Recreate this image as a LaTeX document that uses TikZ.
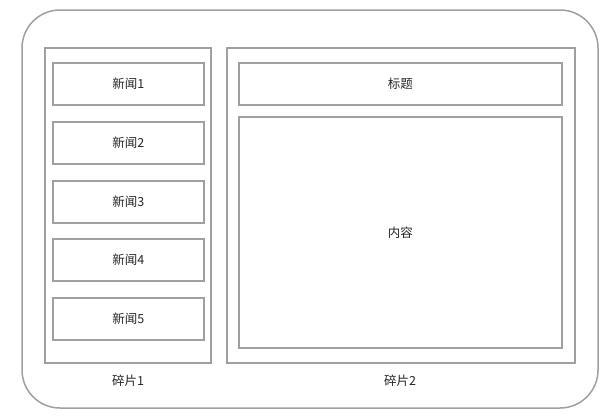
\documentclass[tikz,border=0pt]{standalone}
\usepackage{fontspec}
\newfontfamily\cjk{Noto Sans CJK SC}
\definecolor{framegray}{HTML}{A0A0A0}
\tikzset{
  panel/.style={draw=framegray,line width=1.5pt,inner sep=0pt,anchor=north west},
  lbl/.style={font=\cjk\fontsize{12.5}{14}\selectfont,text=black!85}
}
\begin{document}
\begin{tikzpicture}[x=1pt,y=-1pt]
\useasboundingbox (0,0) rectangle (612,416);

    % outer frame
    \draw[framegray,line width=1.5pt,rounded corners=38pt] (22,10) rectangle (598,408);

    % left fragment
    \node[panel,minimum width=166pt,minimum height=315pt] (frag1) at (44,47) {};
    \foreach \i/\y in {1/62,2/121,3/180,4/238,5/297}{
        \node[panel,minimum width=151pt,minimum height=42pt] (news\i) at (52,\y) {};
        \node[lbl] at (news\i.center) {新闻\i};
    }
    \node[lbl] (frag1lbl) at (128,381) {碎片1};

    % right fragment
    \node[panel,minimum width=348pt,minimum height=315pt] (frag2) at (226,47) {};
    \node[panel,minimum width=323pt,minimum height=42pt] (title) at (238,62) {};
    \node[lbl] at (title.center) {标题};
    \node[panel,minimum width=323pt,minimum height=231pt] (content) at (238,116) {};
    \node[lbl] at (content.center) {内容};
    \node[lbl] (frag2lbl) at (400,381) {碎片2};

\end{tikzpicture}
\end{document}
